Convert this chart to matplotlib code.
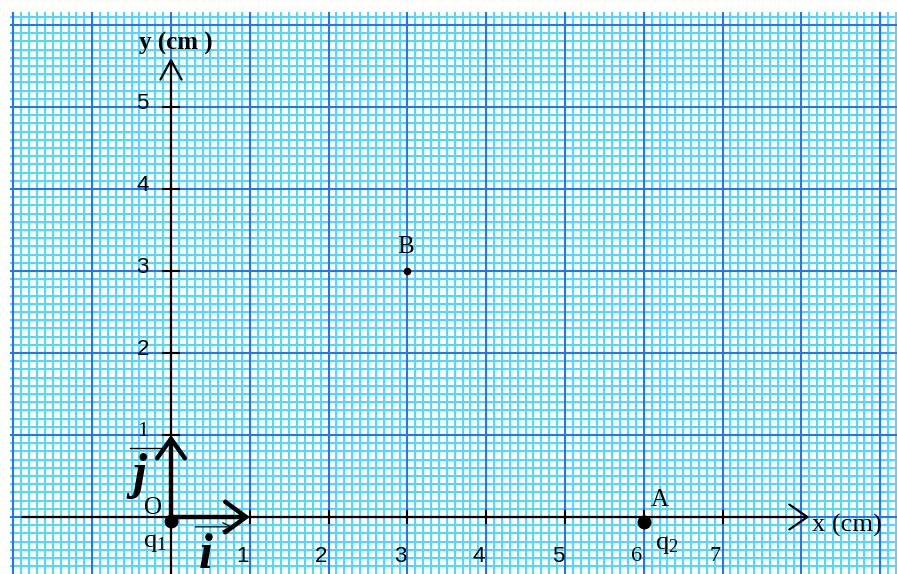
import matplotlib
matplotlib.use("Agg")
import numpy as np
import matplotlib.pyplot as plt
from matplotlib.patches import FancyArrowPatch

# values (cm)
x_ticks = [1, 2, 3, 4, 5, 6, 7]
x_tick_labels = ["1", "2", "3", "4", "5", "6", "7"]
y_ticks = [1, 2, 3, 4, 5]
y_tick_labels = ["1", "2", "3", "4", "5"]
charge_x = [0, 6]
charge_y = [-0.05, -0.06]
charge_names = ["q$_1$", "q$_2$"]
point_b = (3, 3)

SERIF = ["Liberation Serif", "DejaVu Serif"]
SANS = ["Liberation Sans", "DejaVu Sans"]
plt.rcParams["mathtext.fontset"] = "custom"
plt.rcParams["mathtext.rm"] = "Liberation Serif"
plt.rcParams["mathtext.it"] = "Liberation Serif:italic"

fig = plt.figure(figsize=(8.97, 5.74), dpi=100)
ax = fig.add_axes([10 / 897, 0, 887 / 897, 562 / 574])
x0, x1 = -2.043, 9.213
y0, y1 = -0.695, 6.159
ax.set_xlim(x0, x1)
ax.set_ylim(y0, y1)
ax.set_xticks([])
ax.set_yticks([])
for s in ax.spines.values():
    s.set_visible(False)

# graph paper: minor lines every mm, major every cm on top
gx = np.round(np.arange(-2.0, 9.25, 0.1), 1)
gy = np.round(np.arange(-0.6, 6.2, 0.1), 1)
minor_x = [v for v in gx if abs(v - round(v)) > 1e-6]
minor_y = [v for v in gy if abs(v - round(v)) > 1e-6]
major_x = [v for v in gx if abs(v - round(v)) < 1e-6]
major_y = [v for v in gy if abs(v - round(v)) < 1e-6]
ax.vlines(minor_x, y0, y1, color="#55d8f7", lw=1.5, zorder=1)
ax.hlines(minor_y, x0, x1, color="#55d8f7", lw=1.5, zorder=1)
ax.vlines(major_x, y0, y1, color="#1f78f0", lw=1.5, zorder=2)
ax.hlines(major_y, x0, x1, color="#1f78f0", lw=1.5, zorder=2)


def arrow(tail, tip, lw, hl, hw, scale=20):
    p = FancyArrowPatch(tail, tip, arrowstyle="->,head_length=%g,head_width=%g" % (hl, hw),
                        mutation_scale=scale, lw=lw, color="black",
                        shrinkA=0, shrinkB=0, zorder=5)
    ax.add_patch(p)


# axes
arrow((-1.89, 0), (8.1, 0), 1.6, 0.65, 0.45)
arrow((0, -0.7), (0, 5.6), 1.6, 0.7, 0.38)

for k in x_ticks:
    ax.plot([k, k], [-0.075, 0.075], color="black", lw=1.5, zorder=5)
for k in y_ticks:
    ax.plot([-0.1, 0.1], [k, k], color="black", lw=1.5, zorder=5)

for k, lab in zip(x_ticks, x_tick_labels):
    fam = SERIF if k >= 6 else SANS
    ax.text(k - 0.09, -0.48, lab, family=fam, fontsize=16, ha="center", va="center", color="black")
for k, lab in zip(y_ticks, y_tick_labels):
    fam = SERIF if k == 1 else SANS
    ax.text(-0.36, k + 0.04, lab, family=fam, fontsize=16, ha="center", va="center", color="black")

ax.text(0.06, 5.78, "y (cm )", family=SERIF, fontsize=18, fontweight="bold", ha="center", va="center")
ax.text(8.13, -0.1, "x (cm)", family=SERIF, fontsize=19, ha="left", va="center")

# unit vectors
arrow((0, 0), (1.0, 0), 3.2, 0.75, 0.55)
arrow((0, 0), (0, 1.0), 3.2, 0.7, 0.5)
arrow((0.31, -0.12), (0.78, -0.12), 0.9, 0.5, 0.25, scale=12)
ax.plot([-0.52, -0.1], [0.84, 0.84], color="black", lw=1.0, zorder=5)
ax.text(0.44, -0.47, "i", family=SERIF, fontsize=36, fontweight="bold", style="italic",
        ha="center", va="center")
ax.text(-0.4, 0.5, "j", family=SERIF, fontsize=36, fontweight="bold", style="italic",
        ha="center", va="center")

# charges and points
ax.plot(charge_x, charge_y, "o", color="black", ms=9, zorder=6)
ax.plot([point_b[0]], [point_b[1]], "o", color="black", ms=4.5, zorder=6)
ax.text(-0.23, 0.11, "O", family=SERIF, fontsize=18, ha="center", va="center")
ax.text(charge_x[0] - 0.2, -0.32, charge_names[0], family=SERIF, fontsize=19, ha="center", va="center")
ax.text(charge_x[1] + 0.29, -0.34, charge_names[1], family=SERIF, fontsize=19, ha="center", va="center")
ax.text(charge_x[1] + 0.2, 0.21, "A", family=SERIF, fontsize=18, ha="center", va="center")
ax.text(point_b[0] - 0.02, point_b[1] + 0.29, "B", family=SERIF, fontsize=18, ha="center", va="center")

fig.savefig("out.png", dpi=100)
